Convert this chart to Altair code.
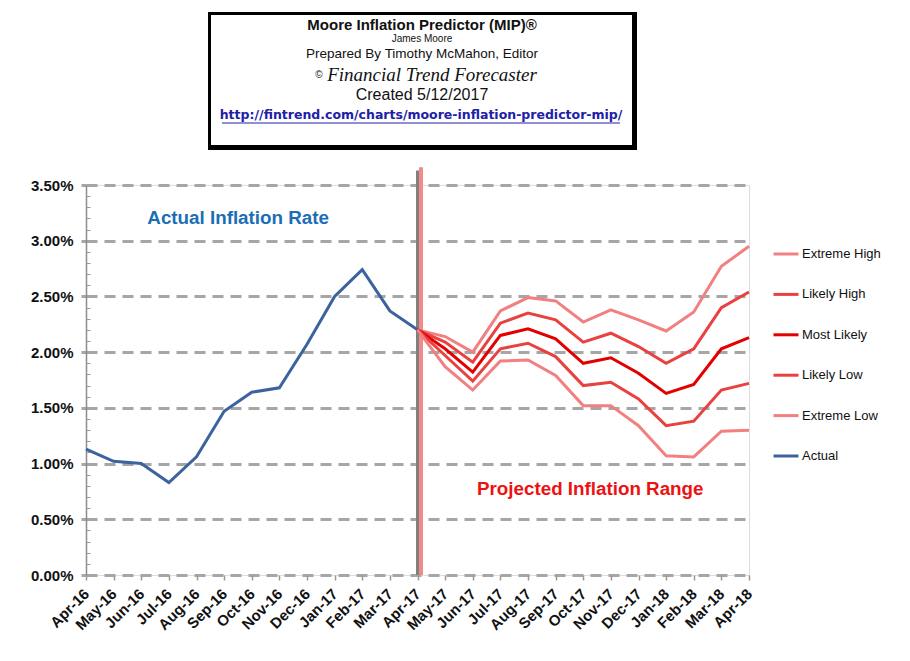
import altair as alt
import pandas as pd

# ---------------- data ----------------
months = ["Apr-16", "May-16", "Jun-16", "Jul-16", "Aug-16", "Sep-16", "Oct-16",
          "Nov-16", "Dec-16", "Jan-17", "Feb-17", "Mar-17", "Apr-17", "May-17",
          "Jun-17", "Jul-17", "Aug-17", "Sep-17", "Oct-17", "Nov-17", "Dec-17",
          "Jan-18", "Feb-18", "Mar-18", "Apr-18"]

actual_months = months[:13]
actual = [1.13, 1.02, 1.00, 0.83, 1.06, 1.47, 1.64, 1.68, 2.07, 2.50, 2.74, 2.37, 2.20]

proj_months = months[12:]
extreme_high = [2.20, 2.14, 2.00, 2.37, 2.49, 2.46, 2.27, 2.38, 2.29, 2.19, 2.36, 2.77, 2.95]
likely_high = [2.20, 2.09, 1.91, 2.26, 2.35, 2.29, 2.09, 2.17, 2.05, 1.90, 2.03, 2.40, 2.54]
most_likely = [2.20, 2.03, 1.82, 2.15, 2.21, 2.12, 1.90, 1.95, 1.81, 1.63, 1.71, 2.03, 2.13]
likely_low = [2.20, 1.97, 1.74, 2.03, 2.08, 1.96, 1.70, 1.73, 1.58, 1.34, 1.38, 1.66, 1.72]
extreme_low = [2.20, 1.87, 1.66, 1.92, 1.93, 1.79, 1.52, 1.52, 1.34, 1.07, 1.06, 1.29, 1.30]

series_order = ["Extreme High", "Likely High", "Most Likely", "Likely Low", "Extreme Low", "Actual"]
series_colors = ["#F28080", "#E8413F", "#E30000", "#E8413F", "#F28080", "#3D639D"]
series_widths = [3, 3, 3.5, 3, 3, 3.5]
draw_rank = [1, 2, 3, 2, 1, 4]

major_ticks = [0.0, 0.5, 1.0, 1.5, 2.0, 2.5, 3.0, 3.5]
minor_ticks = [0.1, 0.2, 0.3, 0.4, 0.6, 0.7, 0.8, 0.9, 1.1, 1.2, 1.3, 1.4,
               1.6, 1.7, 1.8, 1.9, 2.1, 2.2, 2.3, 2.4, 2.6, 2.7, 2.8, 2.9,
               3.1, 3.2, 3.3, 3.4]

split_month = "Apr-17"
split_top_gray = 3.63
split_top_pink = 3.66

title_lines = ["Moore Inflation Predictor (MIP)\u00ae", "James Moore",
               "Prepared  By Timothy McMahon, Editor", "\u00a9",
               "Financial Trend Forecaster", "Created  5/12/2017",
               "http://fintrend.com/charts/moore-inflation-predictor-mip/"]

rows = []
for m, v in zip(actual_months, actual):
    rows.append({"month": m, "series": "Actual", "value": v})
for name, vals in [("Extreme High", extreme_high), ("Likely High", likely_high),
                   ("Most Likely", most_likely), ("Likely Low", likely_low),
                   ("Extreme Low", extreme_low)]:
    for m, v in zip(proj_months, vals):
        rows.append({"month": m, "series": name, "value": v})
df = pd.DataFrame(rows)
df["rank"] = df["series"].map(dict(zip(series_order, draw_rank)))

FONT = "Liberation Sans"
W, H = 663, 390

x_scale = alt.Scale(type="point", padding=0, domain=months)
y_scale = alt.Scale(domain=[0, 3.5], nice=False)

x_axis = alt.Axis(title=None, labelAngle=-45, labelAlign="right", labelBaseline="middle",
                  labelFont=FONT, labelFontWeight="bold", labelFontSize=15,
                  labelColor="#111111", labelPadding=11, tickSize=5, tickColor="#999999",
                  tickWidth=1.5, domain=False, grid=False)
y_axis = alt.Axis(title=None, values=major_ticks,
                  labelExpr="format(datum.value, '.2f') + '%'",
                  labelFont=FONT, labelFontWeight="bold", labelFontSize=15,
                  labelColor="#111111", labelPadding=8, tickSize=5, tickColor="#A6A6A6",
                  tickWidth=3, domain=True, domainColor="#8C8C8C", domainWidth=1.5,
                  grid=True, gridColor="#A6A6A6", gridWidth=3, gridDash=[11, 7])

X = alt.X("month:O", sort=months, scale=x_scale, axis=x_axis)

lines = alt.Chart(df).mark_line().encode(
    x=X,
    y=alt.Y("value:Q", scale=y_scale, axis=y_axis),
    color=alt.Color("series:N", scale=alt.Scale(domain=series_order, range=series_colors),
                    legend=alt.Legend(title=None, orient="none", legendX=686, legendY=55,
                                      symbolType="stroke", symbolSize=625,
                                      symbolStrokeWidth=3, labelFont=FONT,
                                      labelFontSize=13, labelColor="#111111",
                                      rowPadding=19.4, padding=0, labelOffset=2)),
    strokeWidth=alt.StrokeWidth("series:N", scale=alt.Scale(domain=series_order, range=series_widths),
                                legend=None),
    order=alt.Order("rank:Q"),
)

split_df = pd.DataFrame({"month": [split_month], "top_g": [split_top_gray],
                         "top_p": [split_top_pink], "bottom": [0.0]})
rule_gray = alt.Chart(split_df).mark_rule(color="#808080", strokeWidth=3).encode(
    x=X, y=alt.Y("top_g:Q", scale=y_scale, axis=y_axis), y2="bottom:Q")
rule_pink = alt.Chart(split_df).mark_rule(color="#F28A8A", strokeWidth=4, xOffset=3.5).encode(
    x=X, y=alt.Y("top_p:Q", scale=y_scale, axis=y_axis), y2="bottom:Q")

ann_df = pd.DataFrame({"month": ["Sep-16", "Oct-17"], "value": [3.2, 0.77],
                       "label": ["Actual Inflation Rate", "Projected Inflation Range"]})
ann_blue = alt.Chart(ann_df.iloc[[0]]).mark_text(font=FONT, fontWeight="bold", fontSize=18.8,
                                                  color="#1B6EB6", dx=14).encode(
    x=X, y=alt.Y("value:Q", scale=y_scale, axis=y_axis), text="label:N")
ann_red = alt.Chart(ann_df.iloc[[1]]).mark_text(font=FONT, fontWeight="bold", fontSize=18.8,
                                                 color="#EE1111", dx=7).encode(
    x=X, y=alt.Y("value:Q", scale=y_scale, axis=y_axis), text="label:N")

one = alt.Data(values=[{}])
box_shadow = alt.Chart(one).mark_rect(color="#000000").encode(
    x=alt.value(122), x2=alt.value(551), y=alt.value(-173), y2=alt.value(-35))
box_face = alt.Chart(one).mark_rect(color="#FFFFFF").encode(
    x=alt.value(125), x2=alt.value(546), y=alt.value(-170), y2=alt.value(-40))


def txt(s, x, y, size, weight="normal", font=FONT, style="normal", color="#111111", align="center"):
    return alt.Chart(one).mark_text(text=s, font=font, fontSize=size, fontWeight=weight,
                                    fontStyle=style, color=color, align=align,
                                    baseline="middle").encode(x=alt.value(x), y=alt.value(y))


t1 = txt(title_lines[0], 336, -160, 15, "bold")
t2 = txt(title_lines[1], 336, -146, 10)
t3 = txt(title_lines[2], 336, -131, 13.5)
t4a = txt(title_lines[3], 233, -110, 10)
t4 = txt(title_lines[4], 346, -110, 19, font="Liberation Serif", style="italic")
t5 = txt(title_lines[5], 336, -90, 16)
t6 = txt(title_lines[6], 335, -70, 12.5, "bold", font="DejaVu Sans", color="#2020A8")
underline = alt.Chart(one).mark_rule(color="#2020A8", strokeWidth=1.2).encode(
    x=alt.value(136), x2=alt.value(534), y=alt.value(-62))

main = alt.layer(rule_gray, rule_pink, lines, ann_blue, ann_red,
                 box_shadow, box_face, t1, t2, t3, t4a, t4, t5, t6, underline)

minor = alt.Chart(pd.DataFrame({"v": minor_ticks})).mark_point(opacity=0).encode(
    y=alt.Y("v:Q", scale=alt.Scale(domain=[0, 3.5], nice=False),
            axis=alt.Axis(orient="left", values=minor_ticks, labels=False, grid=False,
                          domain=False, tickSize=4, tickColor="#999999", tickWidth=1,
                          offset=-4, title=None)))

chart = alt.layer(main, minor).resolve_scale(y="independent").properties(
    width=W, height=H,
    autosize=alt.AutoSizeParams(type="none"),
    padding={"left": 78, "top": 177, "right": 150, "bottom": 76},
).configure_view(stroke=None).configure(background="#FFFFFF")

chart.save("out.html", embed_options={"renderer": "svg", "actions": False})
